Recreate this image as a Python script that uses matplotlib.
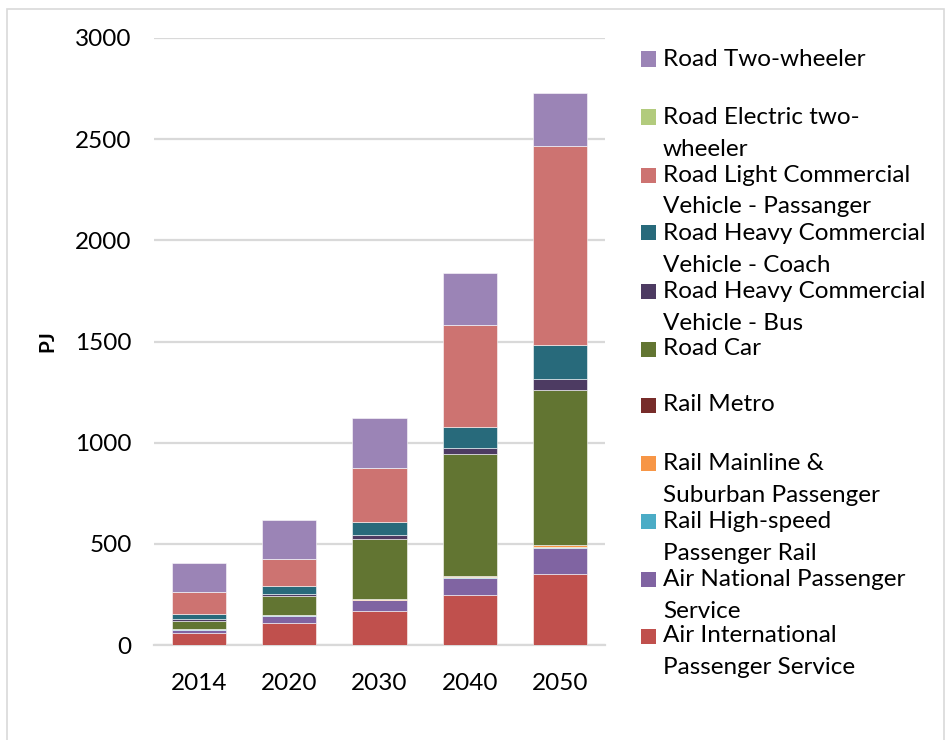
import matplotlib
matplotlib.use("Agg")
import matplotlib.pyplot as plt
from matplotlib.patches import Rectangle
import numpy as np

plt.rcParams['font.family'] = ['Lato', 'DejaVu Sans']

years = ["2014", "2020", "2030", "2040", "2050"]

# Energy demand by passenger transport mode (PJ), stacked bottom to top
air_international = [60, 107, 166, 246, 349]
air_national = [16, 38, 56, 87, 132]
rail_high_speed = [1, 1, 1, 1, 2]
rail_mainline = [3, 3, 4, 7, 10]
rail_metro = [1, 1, 1, 1, 1]
road_car = [40, 94, 296, 601, 766]
road_hcv_bus = [7, 10, 22, 32, 53]
road_hcv_coach = [26, 40, 62, 104, 168]
road_lcv_passenger = [107, 132, 268, 503, 987]
road_electric_two_wheeler = [0, 0, 0, 0, 0]
road_two_wheeler = [146, 194, 248, 257, 262]

series = [
    ("Air International\nPassenger Service", air_international, "#C0504D"),
    ("Air National Passenger\nService", air_national, "#8064A2"),
    ("Rail High-speed\nPassenger Rail", rail_high_speed, "#4BACC6"),
    ("Rail Mainline &\nSuburban Passenger", rail_mainline, "#F79646"),
    ("Rail Metro", rail_metro, "#772C2A"),
    ("Road Car", road_car, "#627532"),
    ("Road Heavy Commercial\nVehicle - Bus", road_hcv_bus, "#4D3B62"),
    ("Road Heavy Commercial\nVehicle - Coach", road_hcv_coach, "#286A7B"),
    ("Road Light Commercial\nVehicle - Passanger", road_lcv_passenger, "#CD7371"),
    ("Road Electric two-\nwheeler", road_electric_two_wheeler, "#B2CB7D"),
    ("Road Two-wheeler", road_two_wheeler, "#9B84B6"),
]

W, H = 948, 740
fig = plt.figure(figsize=(W / 100, H / 100), dpi=100)

# light outer frame
fig.patches.append(Rectangle((7 / W, -0.01), (944 - 7) / W, (H - 9) / H + 0.01,
                             transform=fig.transFigure, fill=False,
                             edgecolor="#D9D9D9", linewidth=1.2))

ax = fig.add_axes([154 / W, (H - 645) / H, 451 / W, 607 / H])

x = np.arange(len(years))
bottom = np.zeros(len(years))
for name, vals, color in series:
    v = np.array(vals, dtype=float)
    ax.bar(x, v, width=0.6, bottom=bottom, color=color,
           edgecolor=(1, 1, 1, 0.55), linewidth=0.7, zorder=3)
    bottom += v

ax.set_xlim(-0.5, len(years) - 0.5)
ax.set_ylim(0, 3000)
ax.set_yticks(np.arange(0, 3001, 500))
ax.set_xticks(x)
ax.set_xticklabels(years)
ax.yaxis.grid(True, color="#D9D9D9", linewidth=1.6, zorder=0)
ax.set_axisbelow(True)
for s in ["top", "right", "left"]:
    ax.spines[s].set_visible(False)
ax.spines["bottom"].set_color("#D9D9D9")
ax.spines["bottom"].set_linewidth(1.6)
ax.tick_params(axis="both", length=0, labelsize=17.5, colors="#000000")
ax.tick_params(axis="y", pad=16)
ax.tick_params(axis="x", pad=20)
ax.set_ylabel("PJ", fontsize=15, fontweight="bold", labelpad=13)

# legend, listed top series first
row_tops = [59, 117, 175, 233, 291, 349, 405, 463, 521, 579, 636]
for (name, vals, color), yc in zip(series[::-1], row_tops):
    fig.patches.append(Rectangle((641 / W, 1 - (yc + 7.5) / H), 15 / W, 15 / H,
                                 transform=fig.transFigure, facecolor=color,
                                 edgecolor="none"))
    for i, line in enumerate(name.split("\n")):
        fig.text(663 / W, 1 - (yc + 32 * i) / H, line, fontsize=17.5,
                 va="center", ha="left", color="#000000")

fig.savefig("out.png", dpi=100)
